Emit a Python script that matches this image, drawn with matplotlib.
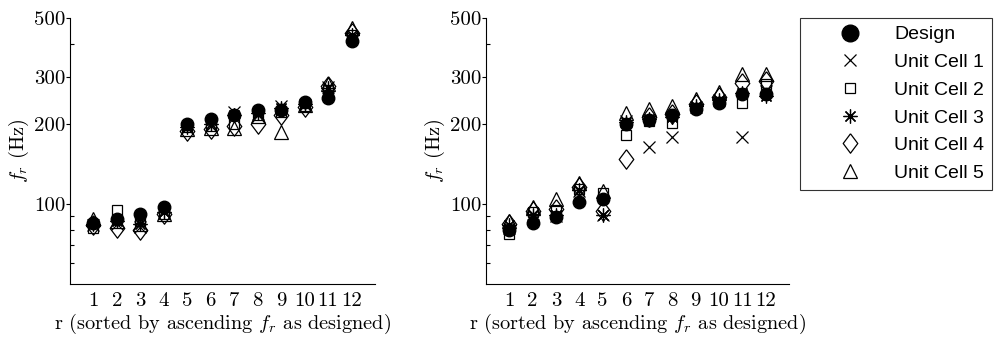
import matplotlib
matplotlib.use("Agg")
import matplotlib.pyplot as plt
from matplotlib.lines import Line2D

plt.rcParams['font.family'] = 'serif'
plt.rcParams['font.serif'] = ['cmr10']
plt.rcParams['mathtext.fontset'] = 'cm'
plt.rcParams['axes.formatter.use_mathtext'] = True

r = [1, 2, 3, 4, 5, 6, 7, 8, 9, 10, 11, 12]

##left panel values [Hz]
design_a = [85, 88, 92, 97.5, 200, 208, 215, 226, 226, 242, 251, 410]
uc1_a = [83, 84, 82, 93, 193, 197, 222, 218, 233, 236, 275, 425]
uc2_a = [81, 95, 86, 92, 194, 196, 200, 215, 222, 233, 268, 430]
uc3_a = [84, 86, 84, 93, 195, 200, 215, 220, 230, 238, 272, 430]
uc4_a = [83, 81, 80, 92, 188, 192, 197, 200, 215, 232, 278, 440]
uc5_a = [88, 86, 84, 92, 191, 193, 193, 214, 187, 235, 283, 458]

##right panel values [Hz]
design_b = [80, 85, 89.5, 102, 104, 200, 207, 215, 228, 240, 259, 259]
uc1_b = [81, 92, 90, 112, 91, 205, 163, 179, 232, 245, 179, 265]
uc2_b = [77, 93, 95, 114, 110, 182, 205, 202, 230, 242, 240, 283]
uc3_b = [83, 91, 91, 113, 91, 203, 208, 212, 234, 245, 262, 255]
uc4_b = [84, 94, 96, 116, 94, 147, 212, 218, 238, 252, 285, 290]
uc5_b = [86, 97.5, 104, 120, 112, 220, 228, 234, 248, 264, 308, 308]

labels = ["Design", "Unit Cell 1", "Unit Cell 2", "Unit Cell 3", "Unit Cell 4", "Unit Cell 5"]
diamond = [(0, 1), (0.75, 0), (0, -1), (-0.75, 0), (0, 1)]
styles = [
    dict(marker='o', markersize=9, markerfacecolor='black', markeredgecolor='black', zorder=5),
    dict(marker='x', markersize=8, markeredgewidth=0.9, color='black', zorder=3),
    dict(marker='s', markersize=7, markerfacecolor='none', markeredgecolor='black', markeredgewidth=0.9, zorder=3),
    dict(marker=(8, 2, 0), markersize=10, markeredgewidth=0.9, color='black', zorder=3),
    dict(marker=diamond, markersize=14, markerfacecolor='none', markeredgecolor='black', markeredgewidth=0.9, zorder=3),
    dict(marker='^', markersize=10, markerfacecolor='none', markeredgecolor='black', markeredgewidth=0.9, zorder=3),
]

fig = plt.figure(figsize=(9.96, 3.42), dpi=100)
ax1 = fig.add_axes([70/996, 1-284/342, 305/996, 266/342])
ax2 = fig.add_axes([486/996, 1-284/342, 303/996, 266/342])

panels = [(ax1, [design_a, uc1_a, uc2_a, uc3_a, uc4_a, uc5_a]),
          (ax2, [design_b, uc1_b, uc2_b, uc3_b, uc4_b, uc5_b])]

for ax, series in panels:
    for vals, st in zip(series, styles):
        ax.plot(r, vals, linestyle='none', **st)
    ax.set_yscale('log')
    ax.set_ylim(50, 500)
    ax.set_xlim(0, 13)
    ax.set_yticks([100, 200, 300, 500])
    ax.set_yticklabels(["100", "200", "300", "500"])
    ax.set_yticks([60, 70, 80, 90, 400], minor=True)
    ax.set_yticklabels([], minor=True)
    ax.set_xticks(r)
    ax.set_xticklabels([str(i) for i in r])
    ax.tick_params(axis='y', which='major', direction='out', length=3, width=0.8, labelsize=15, pad=0.5)
    ax.tick_params(axis='y', which='minor', direction='in', length=3, width=0.8)
    ax.tick_params(axis='x', length=0, labelsize=15, pad=6)
    ax.spines['top'].set_visible(False)
    ax.spines['right'].set_visible(False)
    ax.set_xlabel("r (sorted by ascending $f_r$ as designed)", fontsize=14.6, labelpad=1.5)
    ax.set_ylabel("$f_r$ (Hz)", fontsize=14.6, labelpad=2)

handles = [Line2D([], [], linestyle='none', **st) for st in styles]
handles[0] = Line2D([], [], linestyle='none', marker='o', markersize=12, color='black')
leg = fig.legend(handles, labels, loc='upper left', bbox_to_anchor=(800/996, 1-18/342),
                 frameon=True, fancybox=False, edgecolor='black', borderaxespad=0,
                 prop={'family': 'Liberation Sans', 'size': 14}, numpoints=1,
                 handlelength=4.3, handletextpad=0.15, labelspacing=0.52, borderpad=0.4)
leg.get_frame().set_linewidth(0.8)

fig.savefig("out.png", dpi=100)
